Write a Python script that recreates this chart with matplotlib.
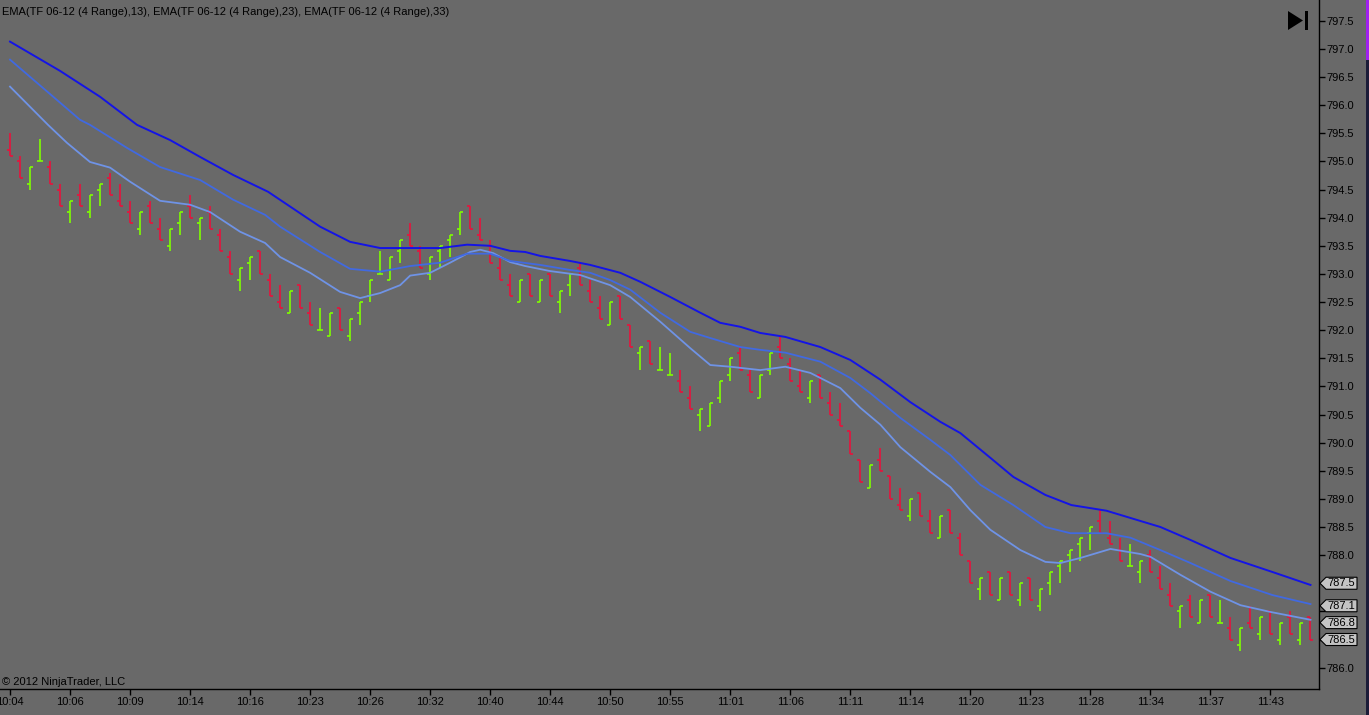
import numpy as np
import matplotlib
matplotlib.use('Agg')
import matplotlib.pyplot as plt
from matplotlib.patches import Polygon, Rectangle
from matplotlib.transforms import blended_transform_factory

plt.rcParams['font.family'] = ['Liberation Sans', 'DejaVu Sans']

# range bars (tick size 0.1, range 0.4)
highs = [795.5, 795.1, 794.9, 795.4, 795.0, 794.6, 794.3, 794.6, 794.4, 794.6,
         794.8, 794.6, 794.3, 794.1, 794.3, 794.0, 793.8, 794.1, 794.4, 794.0,
         794.2, 793.8, 793.4, 793.1, 793.3, 793.4, 793.0, 792.8, 792.7, 792.8,
         792.5, 792.4, 792.3, 792.4, 792.2, 792.5, 792.9, 793.4, 793.3, 793.6,
         793.9, 793.5, 793.3, 793.5, 793.7, 794.1, 794.2, 794.0, 793.6, 793.3,
         793.0, 792.9, 793.0, 792.9, 793.0, 792.7, 793.0, 793.2, 792.9, 792.6,
         792.5, 792.6, 792.1, 791.7, 791.8, 791.7, 791.6, 791.3, 791.0, 790.6,
         790.7, 791.1, 791.5, 791.7, 791.3, 791.2, 791.6, 791.9, 791.5, 791.3,
         791.1, 791.2, 790.9, 790.7, 790.2, 789.7, 789.6, 789.9, 789.4, 789.2,
         789.0, 789.1, 788.8, 788.7, 788.8, 788.4, 787.9, 787.6, 787.7, 787.6,
         787.7, 787.5, 787.6, 787.4, 787.7, 787.9, 788.1, 788.3, 788.5, 788.8,
         788.6, 788.3, 788.2, 787.9, 788.1, 787.8, 787.5, 787.1, 787.3, 787.2,
         787.3, 787.2, 786.9, 786.7, 787.1, 786.9, 787.0, 786.8, 787.0, 786.8,
         786.9]
lows = [795.1, 794.7, 794.5, 795.0, 794.6, 794.2, 793.9, 794.2, 794.0, 794.2,
        794.4, 794.2, 793.9, 793.7, 793.9, 793.6, 793.4, 793.7, 794.0, 793.6,
        793.8, 793.4, 793.0, 792.7, 792.9, 793.0, 792.6, 792.4, 792.3, 792.4,
        792.1, 792.0, 791.9, 792.0, 791.8, 792.1, 792.5, 793.0, 792.9, 793.2,
        793.5, 793.1, 792.9, 793.1, 793.3, 793.7, 793.8, 793.6, 793.2, 792.9,
        792.6, 792.5, 792.6, 792.5, 792.6, 792.3, 792.6, 792.8, 792.5, 792.2,
        792.1, 792.2, 791.7, 791.3, 791.4, 791.3, 791.2, 790.9, 790.6, 790.2,
        790.3, 790.7, 791.1, 791.3, 790.9, 790.8, 791.2, 791.5, 791.1, 790.9,
        790.7, 790.8, 790.5, 790.3, 789.8, 789.3, 789.2, 789.5, 789.0, 788.8,
        788.6, 788.7, 788.4, 788.3, 788.4, 788.0, 787.5, 787.2, 787.3, 787.2,
        787.3, 787.1, 787.2, 787.0, 787.3, 787.5, 787.7, 787.9, 788.1, 788.4,
        788.2, 787.9, 787.8, 787.5, 787.7, 787.4, 787.1, 786.7, 786.9, 786.8,
        786.9, 786.8, 786.5, 786.3, 786.7, 786.5, 786.6, 786.4, 786.6, 786.4,
        786.5]
opens = [795.2, 795.0, 794.6, 795.0, 794.9, 794.5, 794.1, 794.4, 794.1, 794.5,
         794.7, 794.3, 794.1, 793.8, 794.2, 793.8, 793.5, 793.9, 794.2, 793.9,
         794.1, 793.7, 793.3, 792.9, 793.2, 793.4, 792.9, 792.5, 792.3, 792.8,
         792.3, 792.0, 791.9, 792.4, 791.9, 792.3, 792.6, 793.0, 792.9, 793.4,
         793.7, 793.4, 793.0, 793.4, 793.6, 793.8, 794.2, 793.7, 793.5, 793.1,
         792.8, 792.5, 793.0, 792.5, 793.0, 792.5, 792.8, 793.1, 792.7, 792.4,
         792.1, 792.6, 792.1, 791.6, 791.8, 791.3, 791.2, 791.1, 790.8, 790.5,
         790.3, 790.8, 791.2, 791.6, 791.2, 790.8, 791.3, 791.7, 791.4, 791.0,
         790.8, 791.2, 790.7, 790.4, 790.2, 789.7, 789.2, 789.7, 789.4, 788.9,
         788.7, 789.1, 788.6, 788.3, 788.8, 788.3, 787.9, 787.4, 787.7, 787.2,
         787.7, 787.2, 787.6, 787.1, 787.5, 787.8, 788.0, 788.2, 788.4, 788.6,
         788.3, 788.1, 787.8, 787.7, 788.0, 787.6, 787.3, 787.0, 787.2, 786.8,
         787.3, 786.8, 786.7, 786.4, 786.8, 786.6, 787.0, 786.5, 786.9, 786.5,
         786.9]
closes = [795.1, 794.7, 794.9, 795.0, 794.6, 794.2, 794.3, 794.2, 794.4, 794.6,
          794.4, 794.2, 793.9, 794.1, 793.9, 793.6, 793.8, 794.1, 794.0, 794.0,
          793.8, 793.4, 793.0, 793.1, 793.3, 793.0, 792.6, 792.4, 792.7, 792.4,
          792.1, 792.0, 792.3, 792.0, 792.2, 792.5, 792.9, 793.0, 793.3, 793.6,
          793.5, 793.1, 793.3, 793.5, 793.7, 794.1, 793.8, 793.6, 793.2, 792.9,
          792.6, 792.9, 792.6, 792.9, 792.6, 792.7, 793.0, 792.8, 792.5, 792.2,
          792.5, 792.2, 791.7, 791.7, 791.4, 791.3, 791.2, 790.9, 790.6, 790.6,
          790.7, 791.1, 791.5, 791.3, 790.9, 791.2, 791.6, 791.5, 791.1, 790.9,
          791.1, 790.8, 790.5, 790.3, 789.8, 789.3, 789.6, 789.5, 789.0, 788.8,
          789.0, 788.7, 788.4, 788.7, 788.4, 788.0, 787.5, 787.6, 787.3, 787.6,
          787.3, 787.5, 787.2, 787.4, 787.7, 787.9, 788.1, 788.3, 788.5, 788.4,
          788.2, 787.9, 787.8, 787.9, 787.7, 787.4, 787.1, 787.1, 786.9, 787.2,
          786.9, 786.8, 786.5, 786.7, 786.7, 786.9, 786.6, 786.8, 786.6, 786.8,
          786.5]

# EMA lines, read at points along each curve (bar position, price)
ema13_pos = [0.0, 3.8, 5.7, 8.0, 10.0, 12.0, 15.0, 18.0, 20.0, 23.0, 25.5, 27.0,
             30.0, 33.0, 35.0, 37.0, 39.0, 40.0, 42.0, 44.0, 46.0, 47.0, 48.3,
             50.0, 51.5, 54.0, 57.0, 60.0, 62.0, 65.0, 68.0, 70.0, 72.0, 75.0,
             77.5, 80.0, 83.0, 85.0, 87.0, 89.0, 92.0, 94.0, 96.0, 98.0, 101.0,
             103.5, 105.0, 107.0, 110.0, 113.0, 114.0, 117.0, 120.0, 123.0,
             126.0, 130.0]
ema13 = [796.33, 795.65, 795.33, 794.99, 794.89, 794.64, 794.30, 794.23, 794.10,
         793.75, 793.55, 793.30, 793.02, 792.68, 792.57, 792.66, 792.80, 792.97,
         793.02, 793.20, 793.39, 793.43, 793.37, 793.21, 793.14, 793.05, 792.98,
         792.80, 792.59, 792.15, 791.68, 791.38, 791.35, 791.29, 791.35, 791.24,
         790.97, 790.62, 790.32, 789.92, 789.48, 789.21, 788.80, 788.45, 788.09,
         787.88, 787.86, 787.95, 788.11, 788.02, 787.97, 787.65, 787.35, 787.11,
         786.99, 786.85]
ema23_pos = [0.0, 7.0, 8.0, 11.7, 15.0, 19.0, 22.3, 25.5, 27.0, 31.0, 34.0, 37.0,
             40.0, 43.0, 45.7, 48.0, 50.0, 53.0, 56.0, 58.0, 60.0, 62.0, 65.0,
             68.0, 70.0, 73.0, 75.0, 77.5, 81.0, 84.0, 86.0, 89.0, 92.0, 94.0,
             97.0, 100.3, 103.5, 106.0, 109.6, 112.0, 115.0, 118.0, 122.0, 126.2,
             130.0]
ema23 = [796.81, 795.74, 795.65, 795.24, 794.90, 794.67, 794.32, 794.05, 793.84,
         793.39, 793.09, 793.04, 793.14, 793.20, 793.36, 793.36, 793.23, 793.16,
         793.07, 793.02, 792.89, 792.72, 792.31, 791.97, 791.86, 791.70, 791.65,
         791.60, 791.44, 791.15, 790.88, 790.44, 790.05, 789.78, 789.25, 788.89,
         788.50, 788.39, 788.39, 788.31, 788.09, 787.86, 787.54, 787.29, 787.13]
ema33_pos = [0.0, 5.0, 9.0, 12.7, 16.0, 19.0, 22.3, 25.8, 31.0, 34.0, 37.0, 40.0,
             43.0, 45.7, 48.0, 50.0, 51.5, 53.0, 56.0, 58.0, 61.0, 63.0, 66.0,
             69.0, 71.0, 73.0, 75.0, 77.5, 81.0, 84.0, 87.0, 90.0, 93.0, 95.0,
             98.0, 100.3, 103.5, 106.1, 109.6, 115.0, 118.0, 122.0, 126.2, 130.0]
ema33 = [797.13, 796.61, 796.15, 795.65, 795.38, 795.08, 794.76, 794.46, 793.84,
         793.57, 793.46, 793.46, 793.46, 793.52, 793.50, 793.41, 793.39, 793.32,
         793.23, 793.16, 793.02, 792.86, 792.59, 792.31, 792.13, 792.06, 791.95,
         791.88, 791.70, 791.47, 791.12, 790.72, 790.37, 790.17, 789.73, 789.39,
         789.07, 788.89, 788.79, 788.50, 788.27, 787.95, 787.70, 787.47]

time_labels = ['10:04', '10:06', '10:09', '10:14', '10:16', '10:23', '10:26', '10:32',
               '10:40', '10:44', '10:50', '10:55', '11:01', '11:06', '11:11', '11:14',
               '11:20', '11:23', '11:28', '11:34', '11:37', '11:43']
price_ticks = [786.0, 786.5, 787.0, 787.5, 788.0, 788.5, 789.0, 789.5, 790.0, 790.5,
               791.0, 791.5, 792.0, 792.5, 793.0, 793.5, 794.0, 794.5, 795.0, 795.5,
               796.0, 796.5, 797.0, 797.5]
tag_values = [787.5, 787.1, 786.8, 786.5]

BG = '#696969'
UP = '#7FFF00'
DOWN = '#E8123C'
W, H = 1369, 715

fig = plt.figure(figsize=(W / 100, H / 100), dpi=100)
fig.patch.set_facecolor(BG)
ax = fig.add_axes([0, 26 / H, 1319 / W, 1 - 26 / H])
ax.set_facecolor(BG)

x = np.arange(len(highs))
colors = [UP if c >= o else DOWN for o, c in zip(opens, closes)]
ax.vlines(x, lows, highs, colors=colors, lw=1.2)
ax.hlines(opens, x - 0.3, x, colors=colors, lw=1.2)
ax.hlines(closes, x, x + 0.3, colors=colors, lw=1.2)

ax.plot(ema13_pos, ema13, color='#6F93E6', lw=1.3)
ax.plot(ema23_pos, ema23, color='#4169E1', lw=1.3)
ax.plot(ema33_pos, ema33, color='#1414E6', lw=1.4)

ax.set_xlim(-1.0, 130.85)
ax.set_ylim(785.62, 797.87)

for side in ('left', 'top'):
    ax.spines[side].set_visible(False)
for side in ('right', 'bottom'):
    ax.spines[side].set_color('black')
    ax.spines[side].set_linewidth(1.0)

# labels hidden behind the price tags are left blank
ax.yaxis.tick_right()
ax.set_yticks(price_ticks)
ax.set_yticklabels(['' if 786.4 < v < 787.6 else '%.1f' % v for v in price_ticks])
ax.set_xticks(range(0, 6 * len(time_labels), 6))
ax.set_xticklabels(time_labels)
ax.tick_params(axis='both', direction='out', length=4, width=1, color='black',
               labelcolor='black', labelsize=8)
ax.tick_params(axis='y', pad=1)
ax.tick_params(axis='x', pad=2)

# price tags on the right axis
tr = blended_transform_factory(fig.transFigure, ax.transData)
half = 6 * (797.87 - 785.62) / (H - 26)
for v in tag_values:
    pts = [(1320 / W, v), (1326 / W, v + half), (1357 / W, v + half),
           (1357 / W, v - half), (1326 / W, v - half)]
    ax.add_patch(Polygon(pts, closed=True, transform=tr, fc='#C4C4C4', ec='black',
                         lw=0.8, clip_on=False, zorder=10))
    ax.text(1327 / W, v, '%.1f' % v, transform=tr, fontsize=8, color='black',
            va='center', ha='left', clip_on=False, zorder=11)

fig.text(2 / W, 1 - 12 / H,
         'EMA(TF 06-12 (4 Range),13), EMA(TF 06-12 (4 Range),23), EMA(TF 06-12 (4 Range),33)',
         fontsize=8, color='black', va='center', ha='left')
fig.text(2 / W, 1 - 682 / H, '\u00a9 2012 NinjaTrader, LLC', fontsize=8,
         color='black', va='center', ha='left')

# play-to-end button
fig.patches.append(Polygon([(1288 / W, 1 - 11 / H), (1303 / W, 1 - 20.5 / H),
                            (1288 / W, 1 - 30 / H)], closed=True,
                           transform=fig.transFigure, fc='black', ec='none'))
fig.patches.append(Rectangle((1304.5 / W, 1 - 30 / H), 3.5 / W, 19 / H,
                             transform=fig.transFigure, fc='black', ec='none'))

# window edge strip
fig.patches.append(Rectangle((1366 / W, 1 - 60 / H), 3 / W, 60 / H,
                             transform=fig.transFigure, fc='#A020F0', ec='none'))
fig.patches.append(Rectangle((1366 / W, 0), 3 / W, 1 - 60 / H,
                             transform=fig.transFigure, fc='#1C1C38', ec='none'))

fig.savefig('out.png', dpi=100, facecolor=BG)
